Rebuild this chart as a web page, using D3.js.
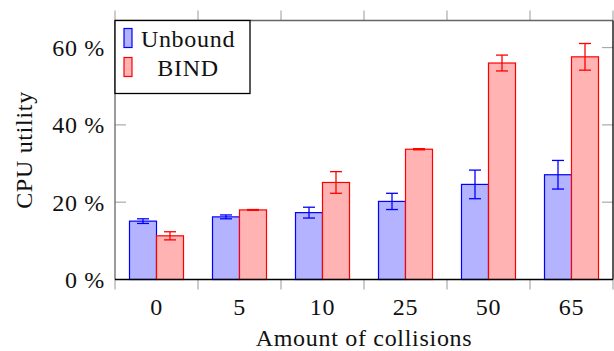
<!DOCTYPE html>
<html lang="en">
<head>
    <meta charset="UTF-8">
    <title>CPU utility</title>
    <script src="https://cdn.jsdelivr.net/npm/d3@7/dist/d3.min.js"></script>
    <style>
        body { margin: 0; background: #fff; }
        text { font-family: "Liberation Serif", "DejaVu Serif", serif; fill: #111; letter-spacing: 0.7px; }
    </style>
</head>
<body>
<script>

    var width = 614;
    var height = 351;

    var categories = ["0", "5", "10", "25", "50", "65"];
    var unbound = [15.1, 16.2, 17.3, 20.2, 24.6, 27.1];
    var unboundErr = [0.6, 0.5, 1.4, 2.1, 3.7, 3.7];
    var bind = [11.3, 18.0, 25.1, 33.7, 56.0, 57.6];
    var bindErr = [1.05, 0.1, 2.8, 0.15, 2.05, 3.45];
    var yTicks = [0, 20, 40, 60];

    var plotLeft = 115, plotRight = 613, plotTop = 20.5, plotBottom = 279.5;
    var barW = 27;

    var xScale = d3.scaleBand()
        .domain(categories)
        .range([plotLeft, plotRight])
        .padding(0);

    var yScale = d3.scaleLinear()
        .domain([0, 67])
        .range([plotBottom, plotTop]);

    var svg = d3.select("body").append("svg")
        .attr("width", width)
        .attr("height", height);

    var series = [
        {name: "Unbound", values: unbound, err: unboundErr, fill: "#b3b3ff", stroke: "#0000ff", off: -barW},
        {name: "BIND", values: bind, err: bindErr, fill: "#ffb3b3", stroke: "#ff0000", off: 0}
    ];

    // bars
    series.forEach(function (s) {
        var g = svg.append("g");
        g.selectAll("rect")
            .data(categories)
            .enter().append("rect")
            .attr("x", function (d) { return xScale(d) + xScale.bandwidth() / 2 + s.off; })
            .attr("y", function (d, i) { return yScale(s.values[i]); })
            .attr("width", barW)
            .attr("height", function (d, i) { return yScale(0) - yScale(s.values[i]); })
            .attr("fill", s.fill)
            .attr("stroke", s.stroke)
            .attr("stroke-width", 1.2);
    });

    // error bars
    series.forEach(function (s) {
        var g = svg.append("g").attr("stroke", s.stroke).attr("stroke-width", 1.3);
        categories.forEach(function (c, i) {
            var cx = xScale(c) + xScale.bandwidth() / 2 + s.off + barW / 2;
            var hi = yScale(s.values[i] + s.err[i]);
            var lo = yScale(s.values[i] - s.err[i]);
            g.append("line").attr("x1", cx).attr("x2", cx).attr("y1", hi).attr("y2", lo);
            g.append("line").attr("x1", cx - 6).attr("x2", cx + 6).attr("y1", hi).attr("y2", hi);
            g.append("line").attr("x1", cx - 6).attr("x2", cx + 6).attr("y1", lo).attr("y2", lo);
        });
    });

    // tick marks at category boundaries (top and bottom, outside)
    var bounds = categories.map(function (c) { return xScale(c); }).concat([plotRight]);
    svg.append("g").selectAll("line")
        .data(bounds).enter().append("line")
        .attr("x1", function (d) { return d; }).attr("x2", function (d) { return d; })
        .attr("y1", plotBottom).attr("y2", plotBottom + 10)
        .attr("stroke", "#aaa").attr("stroke-width", 1.2);
    svg.append("g").selectAll("line")
        .data(bounds).enter().append("line")
        .attr("x1", function (d) { return d; }).attr("x2", function (d) { return d; })
        .attr("y1", plotTop).attr("y2", plotTop - 10)
        .attr("stroke", "#aaa").attr("stroke-width", 1.2);

    // y ticks, inside on both sides
    svg.append("g").selectAll("line")
        .data(yTicks.slice(1)).enter().append("line")
        .attr("x1", plotLeft).attr("x2", plotLeft + 11)
        .attr("y1", function (d) { return yScale(d); }).attr("y2", function (d) { return yScale(d); })
        .attr("stroke", "#aaa").attr("stroke-width", 1.2);
    svg.append("g").selectAll("line")
        .data(yTicks.slice(1)).enter().append("line")
        .attr("x1", plotRight - 11).attr("x2", plotRight)
        .attr("y1", function (d) { return yScale(d); }).attr("y2", function (d) { return yScale(d); })
        .attr("stroke", "#aaa").attr("stroke-width", 1.2);

    // frame
    svg.append("line").attr("x1", plotLeft).attr("x2", plotLeft).attr("y1", plotTop).attr("y2", plotBottom)
        .attr("stroke", "#666").attr("stroke-width", 1.3);
    svg.append("line").attr("x1", plotLeft).attr("x2", plotRight).attr("y1", plotTop).attr("y2", plotTop)
        .attr("stroke", "#666").attr("stroke-width", 1.3);
    svg.append("line").attr("x1", plotLeft).attr("x2", plotRight).attr("y1", plotBottom).attr("y2", plotBottom)
        .attr("stroke", "#000").attr("stroke-width", 1.3);
    svg.append("line").attr("x1", plotRight).attr("x2", plotRight).attr("y1", plotTop).attr("y2", plotBottom)
        .attr("stroke", "#000").attr("stroke-width", 1.3);

    // axes labels
    var xAxis = d3.axisBottom(xScale).tickSize(0).tickPadding(0);
    var xGroup = svg.append("g")
        .attr("transform", "translate(0," + plotBottom + ")")
        .call(xAxis);
    xGroup.select(".domain").remove();
    xGroup.selectAll("text")
        .attr("dy", null).attr("y", 35)
        .style("font-size", "24px").attr("fill", "#111");

    var yAxis = d3.axisLeft(yScale).tickValues(yTicks).tickSize(0).tickPadding(0)
        .tickFormat(function (d) { return d + " %"; });
    var yGroup = svg.append("g")
        .attr("transform", "translate(105,0)")
        .call(yAxis);
    yGroup.select(".domain").remove();
    yGroup.selectAll("text")
        .attr("dy", "0.33em")
        .style("font-size", "24px").attr("fill", "#111");

    svg.append("text")
        .attr("x", (plotLeft + plotRight) / 2).attr("y", 346)
        .attr("text-anchor", "middle")
        .style("font-size", "24px")
        .text("Amount of collisions");

    svg.append("text")
        .attr("transform", "translate(32," + ((plotTop + plotBottom) / 2) + ") rotate(-90)")
        .attr("text-anchor", "middle")
        .style("font-size", "24px")
        .text("CPU utility");

    // legend
    var lg = svg.append("g");
    lg.append("rect")
        .attr("x", plotLeft).attr("y", plotTop).attr("width", 135).attr("height", 73)
        .attr("fill", "#fff").attr("stroke", "#000").attr("stroke-width", 1.3);
    series.forEach(function (s, i) {
        var y0 = plotTop + 8 + i * 29;
        lg.append("rect")
            .attr("x", 124).attr("y", y0).attr("width", 8).attr("height", 19)
            .attr("fill", s.fill).attr("stroke", s.stroke).attr("stroke-width", 1.2);
        lg.append("text")
            .attr("x", 188).attr("y", y0 + 18)
            .attr("text-anchor", "middle")
            .style("font-size", "24px")
            .text(s.name);
    });

</script>
</body>
</html>
